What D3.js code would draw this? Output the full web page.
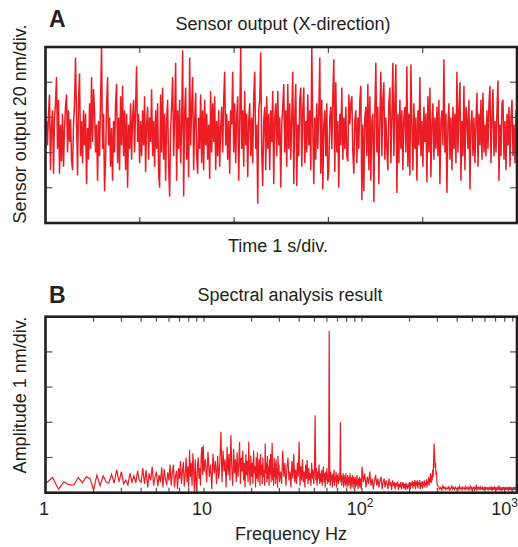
<!DOCTYPE html>
<html><head><meta charset="utf-8">
<script src="https://cdn.jsdelivr.net/npm/d3@7"></script>
<style>
html,body{margin:0;padding:0;background:#fff;}
svg{display:block;font-family:"Liberation Sans",Arial,Helvetica,sans-serif;}
</style></head>
<body>
<svg id="chart" width="518" height="547"></svg>
<script>
// ---------- Panel A: sensor output (nm), one sample per ~1/94 s over 5 s ----------
const timeSpan = 5; // seconds (5 divisions of 1 s)
const sensorNm = [
0,8,-6,12,23,-20,5,14,-22,10,
18,33,-8,20,-22,6,-15,12,-18,4,
16,23,-10,14,-4,9,-14,-20,6,18,
44,10,-23,20,35,-12,8,-16,14,-6,
12,-28,4,-14,18,-8,33,-4,26,14,
-10,6,-26,8,-12,20,50,-8,12,-32,
-14,16,33,-6,10,-18,4,-26,8,-10,
18,29,-16,10,-20,22,-6,28,-12,14,
-20,12,-30,6,-8,18,-14,10,20,-10,
16,39,-4,12,-16,8,-12,14,-6,22,
-21,6,16,-14,10,-4,26,-12,8,-18,
14,-8,18,-22,-30,23,-10,27,-14,12,
-26,8,20,-18,-35,4,16,33,-12,10,
41,-26,14,-8,20,-16,6,48,-35,12,
27,-14,10,-24,44,-6,16,33,-20,8,
24,-12,-22,10,-8,23,-16,14,-20,20,
-6,12,-14,6,-25,25,-10,18,-4,22,
-20,8,-12,14,-18,4,16,-10,20,36,
-6,12,-14,8,-22,14,6,36,-10,18,
-16,10,22,-26,6,50,-8,14,-18,25,
-6,12,-24,8,18,-12,10,-16,22,36,
-8,6,-39,14,20,47,-10,-29,8,16,
-20,22,-8,12,-20,14,-4,25,-28,10,
18,-12,25,-6,10,-30,6,16,29,-10,
14,-18,29,-8,18,-14,10,36,-28,12,
29,-29,6,-12,20,27,-18,14,27,-16,
8,-10,23,-6,14,-20,50,4,-28,10,
-14,18,-8,12,44,-22,20,-31,6,14,
-12,18,-26,-20,10,16,-8,22,43,-21,
30,-10,8,-30,12,-6,27,-14,10,-8,
16,-12,-15,23,6,18,22,-10,-22,8,
14,-16,10,-8,20,28,-37,6,-32,10,
16,-12,29,-20,22,-26,8,12,-38,14,
41,-10,16,-28,8,36,-12,20,30,-14,
10,-8,-20,18,27,-16,10,41,-12,18,
40,-33,12,-16,20,-8,14,-20,10,16,
-10,39,-18,12,-23,40,6,-20,18,-8,
10,-26,14,-6,33,-12,8,-18,16,-4,
12,-27,22,-10,27,-24,6,18,-14,10,
-8,16,-12,20,-28,8,14,-6,43,-10,
12,-33,6,18,-14,10,-20,16,-8,12,
-16,36,-10,14,30,-26,8,-12,28,-20,
16,10,-8,20,-31,6,14,-12,10,-16,
8,24,-18,12,-6,20,-14,24,-10,6,
-12,14,-8,18,28,-16,10,26,-12,8,
-10,14,31,-26,6,-12,18,20,-14,8,
-20,12,-6,16,-18,10,20,-12,6,-16,
14,-4
];
const timeTicks = [1, 2, 3, 4];
const sensorTicks = [-30, -10, 10, 30];

// ---------- Panel B: amplitude spectrum (nm) ----------
const band1Start = 1.0,  band1Step = 0.1;   // 1 – 10 Hz
const band1Amp = [
0.27,0.43,0.10,0.31,0.22,0.22,0.43,0.28,0.45,0.40,
0.08,0.50,0.20,0.48,0.31,0.27,0.52,0.27,0.65,0.31,
0.60,0.25,0.35,0.22,0.55,0.30,0.48,0.28,0.62,0.35,
0.30,0.70,0.25,0.64,0.15,0.55,0.35,0.74,0.20,0.45,
0.60,0.18,0.50,0.30,0.72,0.15,0.67,0.40,0.22,0.58,
0.35,0.80,0.20,0.55,0.79,0.15,0.48,0.62,0.10,0.70,
0.40,0.90,0.25,0.60,0.88,0.18,0.50,1.00,0.30,0.75,
0.15,1.21,0.45,0.85,0.20,1.12,0.60,0.00,0.95,0.35,
0.03,0.80,1.00,0.40,0.70,0.20,1.05,1.30,0.50,1.35,
0.60];
const band2Start = 10.2, band2Step = 0.2;   // 10 – 30 Hz
const band2Amp = [
0.95,0.30,1.16,0.45,0.80,0.10,1.10,0.55,0.90,0.25,
1.05,0.40,0.85,1.73,0.30,1.20,0.60,0.95,0.15,1.30,
0.50,1.10,0.35,1.64,0.70,0.20,1.25,0.55,0.95,0.30,
1.15,0.45,0.80,1.45,0.25,1.00,0.60,1.20,0.35,0.85,
0.15,1.10,0.50,0.90,0.30,1.45,0.65,0.20,1.05,0.45,
0.85,0.25,1.20,0.55,0.75,0.15,1.00,0.40,1.15,0.30,
0.70,0.95,0.20,1.10,0.50,0.80,0.25,1.00,0.45,0.65,
0.20,1.40,0.55,0.85,0.30,1.05,0.40,0.75,0.20,0.95,
0.50,1.10,0.30,0.80,1.42,0.35,0.70,0.20,1.00,0.45,
0.85,0.25,0.95,0.40,0.70,0.15,1.05,0.50,0.80,0.30];
const band3Start = 30.5, band3Step = 0.5;   // 30 – 100 Hz
const band3Amp = [
0.60,0.25,1.20,0.45,0.85,0.20,0.70,1.00,0.35,0.60,
0.15,0.90,0.40,1.10,0.30,0.65,0.25,0.85,0.45,1.45,
0.20,0.75,0.35,0.95,0.30,0.60,0.15,0.80,0.40,0.93,
0.25,0.70,0.35,0.55,0.20,0.85,0.40,0.65,0.25,0.60,
2.20,0.35,0.70,0.20,0.60,0.40,0.80,0.25,0.55,0.30,
0.65,0.20,0.50,0.75,0.30,0.55,0.15,0.60,0.35,0.70,
0.25,0.50,0.30,4.60,0.40,0.20,0.60,0.35,0.50,0.15,
0.55,0.30,0.65,0.20,0.45,0.35,0.60,0.15,0.50,0.30,
0.55,0.25,0.45,0.35,0.60,2.00,0.30,0.50,0.20,0.45,
0.35,0.55,0.15,0.50,0.30,0.45,0.20,0.55,0.25,0.40,
0.15,0.50,0.30,0.45,0.20,0.40,0.35,0.55,0.10,0.45,
0.30,0.40,0.15,0.50,0.25,0.35,0.45,0.10,0.40,0.30,
0.45,0.15,0.35,0.40,0.20,0.50,0.25,0.35,0.10,0.40,
0.30,0.20,0.45,0.15,0.35,0.25,0.40,0.10,0.30,0.74];
const band4Start = 102, band4Step = 2;      // 100 – 300 Hz
const band4Amp = [
0.30,0.55,0.15,0.45,0.25,0.60,0.20,0.40,0.10,0.35,
0.50,0.20,0.40,0.15,0.35,0.45,0.10,0.30,0.40,0.15,
0.35,0.25,0.10,0.40,0.20,0.30,0.08,0.35,0.20,0.30,
0.10,0.28,0.18,0.32,0.08,0.25,0.15,0.30,0.10,0.22,
0.30,0.12,0.25,0.08,0.28,0.18,0.10,0.26,0.15,0.30,
0.10,0.28,0.20,0.34,0.12,0.30,0.18,0.36,0.10,0.32,
0.20,0.35,0.12,0.30,0.22,0.36,0.10,0.28,0.18,0.33,
0.12,0.30,0.20,0.35,0.15,0.28,0.22,0.38,0.14,0.32,
0.25,0.45,0.20,0.40,0.30,0.55,0.28,0.50,0.35,0.65,
0.45,0.90,1.40,1.10,0.70,0.85,0.50,0.60,0.30,0.20];
const band5Start = 305, band5Step = 5;      // 300 – 960 Hz
const band5Amp = [
0.18,0.10,0.15,0.08,0.20,0.12,0.16,0.09,0.14,0.11,
0.17,0.08,0.13,0.19,0.10,0.15,0.09,0.16,0.12,0.10,
0.15,0.09,0.18,0.11,0.14,0.08,0.16,0.12,0.10,0.17,
0.09,0.14,0.11,0.16,0.08,0.13,0.18,0.10,0.15,0.09,
0.12,0.16,0.08,0.14,0.11,0.22,0.09,0.13,0.15,0.10,
0.14,0.08,0.16,0.12,0.10,0.15,0.09,0.13,0.11,0.17,
0.08,0.14,0.12,0.10,0.16,0.09,0.13,0.11,0.15,0.08,
0.13,0.10,0.17,0.09,0.12,0.14,0.08,0.15,0.11,0.10,
0.16,0.09,0.12,0.14,0.08,0.13,0.20,0.10,0.12,0.09,
0.14,0.11,0.08,0.15,0.10,0.13,0.09,0.16,0.12,0.10,
0.13,0.08,0.15,0.11,0.09,0.14,0.12,0.10,0.16,0.09,
0.12,0.14,0.08,0.13,0.11,0.15,0.09,0.12,0.10,0.14,
0.09,0.13,0.11,0.16,0.08,0.12,0.14,0.10,0.13,0.09,
0.12,0.10];
const freqMajor = [1, 10, 100, 1000];
const freqMajorLabels = [["1",""],["10",""],["10","2"],["10","3"]];
const ampTicks = [1, 2, 3, 4];

// ---------- drawing ----------
const svg = d3.select("#chart");
const RED = "#ec1c24", INK = "#231f20", TICK = "#555";
const defs = svg.append("defs");

// Panel A
const A = {l:45.5, r:517, t:47, b:223};
const xA = d3.scaleLinear().domain([0, timeSpan]).range([A.l, A.r]);
const yA = d3.scaleLinear().domain([-50, 50]).range([A.b, A.t]);
defs.append("clipPath").attr("id","clipA").append("rect")
  .attr("x",A.l).attr("y",A.t).attr("width",A.r-A.l).attr("height",A.b-A.t);
const dtA = timeSpan / (sensorNm.length - 1);
const ptsA = sensorNm.map((v,i)=>[i*dtA, v]);
svg.append("path").attr("clip-path","url(#clipA)")
  .attr("d", d3.line().x(d=>xA(d[0])).y(d=>yA(d[1]))(ptsA))
  .attr("fill","none").attr("stroke",RED).attr("stroke-width",1.5).attr("stroke-linejoin","bevel");

const gA = svg.append("g");
const tl = 6;
timeTicks.forEach(t=>{
  gA.append("line").attr("x1",xA(t)).attr("x2",xA(t)).attr("y1",A.t).attr("y2",A.t+tl).attr("stroke",TICK).attr("stroke-width",1.2);
  gA.append("line").attr("x1",xA(t)).attr("x2",xA(t)).attr("y1",A.b).attr("y2",A.b-tl).attr("stroke",TICK).attr("stroke-width",1.2);
});
sensorTicks.forEach(v=>{
  gA.append("line").attr("x1",A.l).attr("x2",A.l+7).attr("y1",yA(v)).attr("y2",yA(v)).attr("stroke",TICK).attr("stroke-width",1.2);
  gA.append("line").attr("x1",A.r).attr("x2",A.r-7).attr("y1",yA(v)).attr("y2",yA(v)).attr("stroke",TICK).attr("stroke-width",1.2);
});
svg.append("rect").attr("x",A.l).attr("y",A.t).attr("width",A.r-A.l).attr("height",A.b-A.t)
  .attr("fill","none").attr("stroke",INK).attr("stroke-width",2.6);

svg.append("text").attr("x",49).attr("y",27).attr("font-size",23).attr("font-weight","bold").attr("fill",INK).text("A");
svg.append("text").attr("x",283).attr("y",30).attr("text-anchor","middle").attr("font-size",18).attr("fill",INK).text("Sensor output (X-direction)");
svg.append("text").attr("x",278).attr("y",252).attr("text-anchor","middle").attr("font-size",18).attr("fill",INK).text("Time 1 s/div.");
svg.append("text").attr("transform","translate(26,124) rotate(-90)").attr("text-anchor","middle").attr("font-size",18).attr("fill",INK).text("Sensor output 20 nm/div.");

// Panel B
const B = {l:45.5, r:517, t:316.7, b:492.7};
const xB = d3.scaleLog().domain([1, 1000]).range([46, 520]);
const yB = d3.scaleLinear().domain([0, 5]).range([B.b, B.t]);
defs.append("clipPath").attr("id","clipB").append("rect")
  .attr("x",B.l).attr("y",B.t).attr("width",B.r-B.l).attr("height",B.b-B.t);
function band(start, step, amps){ return amps.map((a,i)=>[start + i*step, a]); }
const ptsB = [].concat(
  band(band1Start, band1Step, band1Amp),
  band(band2Start, band2Step, band2Amp),
  band(band3Start, band3Step, band3Amp),
  band(band4Start, band4Step, band4Amp),
  band(band5Start, band5Step, band5Amp));
svg.append("path").attr("clip-path","url(#clipB)")
  .attr("d", d3.line().x(d=>xB(d[0])).y(d=>yB(d[1]))(ptsB))
  .attr("fill","none").attr("stroke",RED).attr("stroke-width",1.2);

const gB = svg.append("g");
const logTicks = xB.ticks().filter(f=>xB(f) > B.l+1 && xB(f) < B.r-1);
logTicks.forEach(f=>{
  gB.append("line").attr("x1",xB(f)).attr("x2",xB(f)).attr("y1",B.t).attr("y2",B.t+5).attr("stroke",TICK).attr("stroke-width",1.2);
  gB.append("line").attr("x1",xB(f)).attr("x2",xB(f)).attr("y1",B.b).attr("y2",B.b-5).attr("stroke",TICK).attr("stroke-width",1.2);
});
ampTicks.forEach(v=>{
  gB.append("line").attr("x1",B.l).attr("x2",B.l+7).attr("y1",yB(v)).attr("y2",yB(v)).attr("stroke",TICK).attr("stroke-width",1.2);
  gB.append("line").attr("x1",B.r).attr("x2",B.r-7).attr("y1",yB(v)).attr("y2",yB(v)).attr("stroke",TICK).attr("stroke-width",1.2);
});
svg.append("rect").attr("x",B.l).attr("y",B.t).attr("width",B.r-B.l).attr("height",B.b-B.t)
  .attr("fill","none").attr("stroke",INK).attr("stroke-width",2.6);

freqMajor.forEach((f,i)=>{
  const lab = freqMajorLabels[i];
  let x = xB(f) - 2;
  const t = svg.append("text").attr("y",515).attr("font-size",18).attr("fill",INK);
  if (x > 500) { t.attr("x", 518).attr("text-anchor","end"); }
  else { t.attr("x", x).attr("text-anchor","middle"); }
  t.append("tspan").text(lab[0]);
  if (lab[1]) t.append("tspan").attr("font-size",12).attr("dy",-8).text(lab[1]);
});
svg.append("text").attr("x",49).attr("y",303).attr("font-size",23).attr("font-weight","bold").attr("fill",INK).text("B");
svg.append("text").attr("x",290).attr("y",301).attr("text-anchor","middle").attr("font-size",18).attr("fill",INK).text("Spectral analysis result");
svg.append("text").attr("x",291).attr("y",540).attr("text-anchor","middle").attr("font-size",18).attr("fill",INK).text("Frequency Hz");
svg.append("text").attr("transform","translate(26,395) rotate(-90)").attr("text-anchor","middle").attr("font-size",18).attr("fill",INK).text("Amplitude 1 nm/div.");
</script>
</body></html>
